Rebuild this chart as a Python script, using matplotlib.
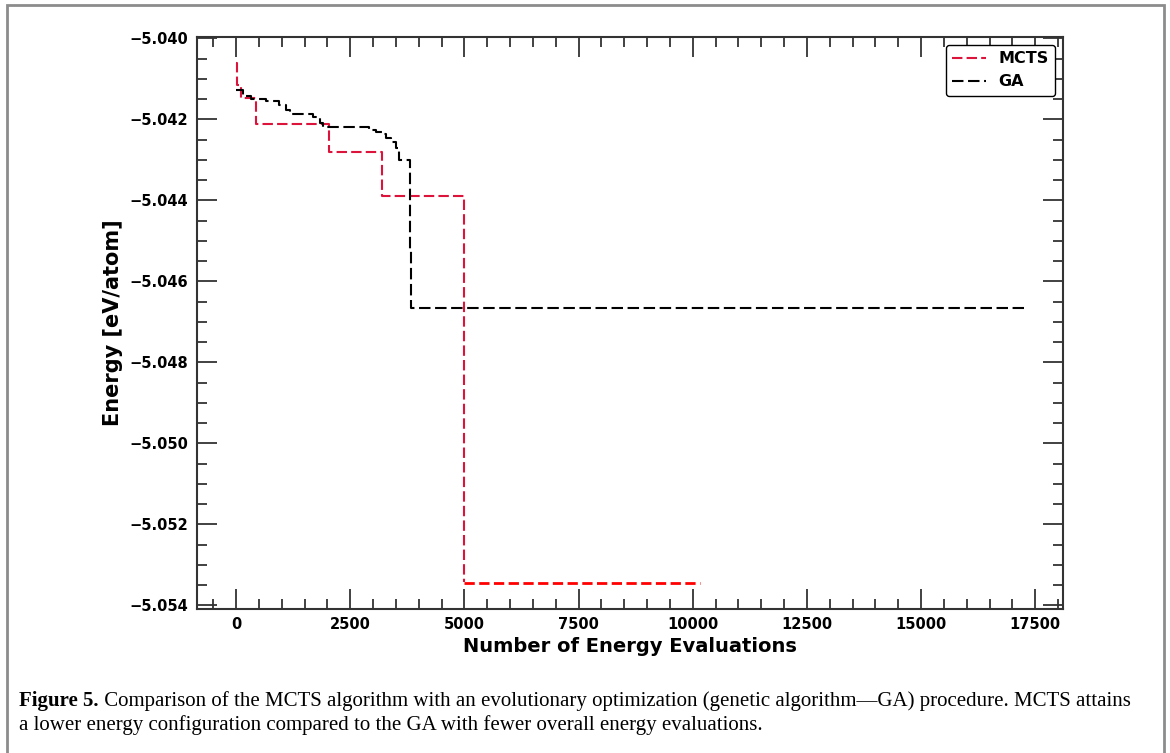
import matplotlib
matplotlib.use("Agg")
from matplotlib import pyplot as plt
from matplotlib.ticker import MultipleLocator
from matplotlib.patches import Rectangle

# MCTS best energy so far (steps-post)
mcts_x = [0, 20, 110, 446, 2030, 3195, 5000]
mcts_y = [-5.04061, -5.04115, -5.04148, -5.04211, -5.04281, -5.04389, -5.05343]

# final MCTS level, drawn separately in bright red
mcts_end_x = [5000, 10150]
mcts_end_y = [-5.05345, -5.05345]

# GA best energy so far (steps-post)
ga_x = [0, 150, 330, 660, 950, 1100, 1170, 1680, 1830, 1900, 2920, 3070, 3210,
        3290, 3400, 3510, 3565, 3800, 3840, 17250]
ga_y = [-5.04127, -5.04142, -5.04149, -5.04154, -5.04164, -5.04176, -5.04187,
        -5.04194, -5.04209, -5.04220, -5.04226, -5.04232, -5.04236, -5.04246,
        -5.04255, -5.04271, -5.04301, -5.04526, -5.04666, -5.04666]

caption_bold = "Figure 5."
caption_1 = (" Comparison of the MCTS algorithm with an evolutionary optimization "
             "(genetic algorithm\u2014GA) procedure. MCTS attains")
caption_2 = ("a lower energy configuration compared to the GA with fewer overall "
             "energy evaluations.")

W, H = 1170, 753
fig = plt.figure(figsize=(W / 100, H / 100), dpi=100)
ax = fig.add_axes([196.7 / W, 1 - 609 / H, (1063.3 - 196.7) / W, (609 - 37) / H])

ax.plot(mcts_x, mcts_y, drawstyle="steps-post", color="crimson", lw=1.5,
        dashes=(5, 2), label="MCTS")
ax.plot(ga_x, ga_y, drawstyle="steps-post", color="black", lw=1.5,
        dashes=(5.5, 2.2), label="GA")
ax.plot(mcts_end_x, mcts_end_y, color="red", lw=2, ls="--")

ax.xaxis.set_major_locator(MultipleLocator(2500))
ax.xaxis.set_minor_locator(MultipleLocator(500))
ax.yaxis.set_major_locator(MultipleLocator(0.002))
ax.yaxis.set_minor_locator(MultipleLocator(0.0005))
ax.ticklabel_format(axis="y", useOffset=False)

spine_col = "#333333"
for s in ax.spines.values():
    s.set_color(spine_col)
    s.set_linewidth(1.5)
ax.tick_params(which="both", direction="in", top=True, right=True,
               color=spine_col, width=1.3)
ax.tick_params(which="major", length=14.5, pad=6, labelsize=10.5)
ax.tick_params(which="minor", length=7)
for lab in ax.get_xticklabels() + ax.get_yticklabels():
    lab.set_fontweight("bold")

ax.set_xlabel("Number of Energy Evaluations", fontsize=14, fontweight="bold",
              labelpad=3)
ax.set_ylabel("Energy [eV/atom]", fontsize=15, fontweight="bold", labelpad=5)

leg = ax.legend(loc="upper right", prop={"weight": "bold", "size": 11.5},
                framealpha=1, edgecolor="black", fancybox=True,
                borderaxespad=0.5, handlelength=2.1)
leg.get_frame().set_linewidth(1.0)

# grey frame round figure + caption
fig.patches.append(Rectangle((7 / W, -0.05), (1164 - 7) / W, 1.05 - 5 / H,
                             transform=fig.transFigure, fill=False,
                             edgecolor="#8c8c8c", lw=2))

cap_font = {"family": "Liberation Serif", "size": 15}
t0 = fig.text(19 / W, 1 - 706 / H, caption_bold, fontweight="bold",
              va="baseline", **cap_font)
fig.canvas.draw()
bb = t0.get_window_extent()
fig.text(bb.x1 / W, 1 - 706 / H, caption_1, va="baseline", **cap_font)
fig.text(19 / W, 1 - 730 / H, caption_2, va="baseline", **cap_font)

fig.savefig("out.png", dpi=100)
